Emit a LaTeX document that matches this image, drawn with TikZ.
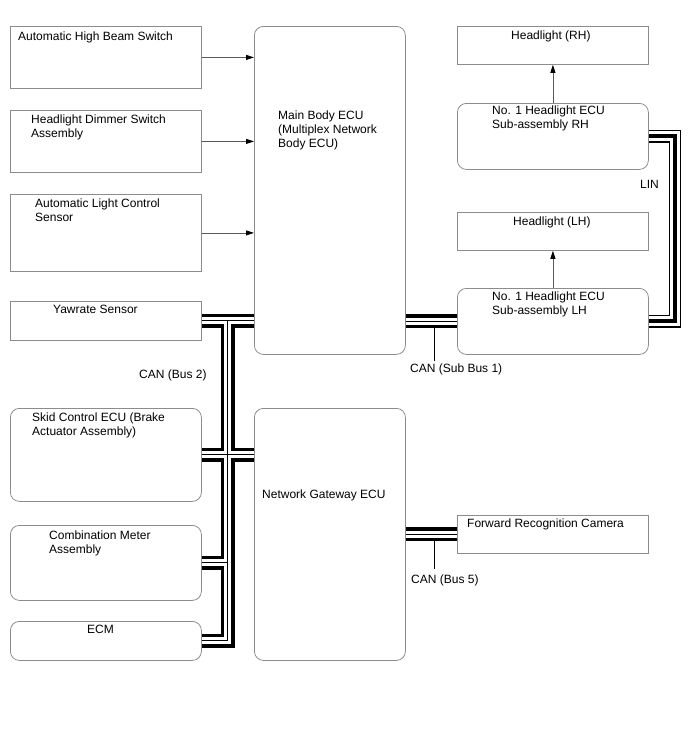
\documentclass[tikz,border=0pt]{standalone}
\usepackage{fontspec}
\setmainfont{Liberation Sans}
\usepackage{tikz}
\usetikzlibrary{positioning, arrows.meta, calc}
\usepackage{xcolor}

\begin{document}
\begin{tikzpicture}[
        x=1pt, y=-1pt,
        every node/.style={font=\fontsize{12}{14}\selectfont},
        box/.style={draw=black!45, line width=0.8pt, inner sep=0pt, anchor=north west},
        ecu/.style={box, rounded corners=9pt},
        txt/.style={inner sep=0pt, anchor=north west, align=left},
        arr/.style={draw=black!65, line width=0.8pt, -{Triangle[length=8pt, width=5pt, color=black]}},
        canout/.style={line width=14pt, black},
        canmid/.style={line width=7pt, white},
        canin/.style={line width=1pt, black},
        linout/.style={line width=12.5pt, black},
        linmid/.style={line width=10pt, white},
        linin/.style={line width=4pt, black}
      ]
      \useasboundingbox (0,0) rectangle (688,755);

      \node[box, minimum width=191, minimum height=62] (ahbs)  at (10,26)  {};
      \node[box, minimum width=191, minimum height=62] (dim)   at (10,110) {};
      \node[box, minimum width=191, minimum height=77] (alcs)  at (10,194) {};
      \node[box, minimum width=191, minimum height=39] (yaw)   at (10,301) {};
      \node[ecu, minimum width=191, minimum height=93] (skid)  at (10,408) {};
      \node[ecu, minimum width=191, minimum height=75] (meter) at (10,525) {};
      \node[ecu, minimum width=191, minimum height=39] (ecm)   at (10,621) {};

      \node[ecu, minimum width=151, minimum height=328] (mbecu) at (254,26)  {};
      \node[ecu, minimum width=151, minimum height=252] (gw)    at (254,408) {};

      \node[box, minimum width=191, minimum height=38] (hlrh)  at (457,26)  {};
      \node[ecu, minimum width=191, minimum height=66] (ecurh) at (457,103) {};
      \node[box, minimum width=191, minimum height=38] (hllh)  at (457,212) {};
      \node[ecu, minimum width=191, minimum height=66] (eculh) at (457,288) {};
      \node[box, minimum width=191, minimum height=38] (cam)   at (457,515) {};

      \node[txt] (ahbs-t)  at (18,32)    {Automatic High Beam Switch};
      \node[txt] (dim-t)   at (31,115)   {Headlight Dimmer Switch\\Assembly};
      \node[txt] (alcs-t)  at (35,198.5) {Automatic Light Control\\Sensor};
      \node[txt] (yaw-t)   at (53,304.5) {Yawrate Sensor};
      \node[txt] (skid-t)  at (32,413)   {Skid Control ECU (Brake\\Actuator Assembly)};
      \node[txt] (meter-t) at (49,530.5) {Combination Meter\\Assembly};
      \node[txt] (ecm-t)   at (87,625)   {ECM};
      \node[txt] (mbecu-t) at (278,110.5) {Main Body ECU\\(Multiplex Network\\Body ECU)};
      \node[txt] (gw-t)    at (262,490)  {Network Gateway ECU};
      \node[txt] (hlrh-t)  at (511,31)   {Headlight (RH)};
      \node[txt] (ecurh-t) at (492,105.5) {No. 1 Headlight ECU\\Sub-assembly RH};
      \node[txt] (hllh-t)  at (513,217)  {Headlight (LH)};
      \node[txt] (eculh-t) at (492,291.5) {No. 1 Headlight ECU\\Sub-assembly LH};
      \node[txt] (cam-t)   at (467,518.5) {Forward Recognition Camera};

      \node[txt] (can2)  at (139,370)   {CAN (Bus 2)};
      \node[txt] (sub1)  at (410,364)   {CAN (Sub Bus 1)};
      \node[txt] (bus5)  at (411,575)   {CAN (Bus 5)};
      \node[txt] (lin)   at (640,180)   {LIN};

      \draw[arr] (ahbs.east) -- (ahbs.east -| mbecu.west);
      \draw[arr] (dim.east)  -- (dim.east -| mbecu.west);
      \draw[arr] (alcs.east) -- (alcs.east -| mbecu.west);
      \draw[arr] (ecurh.north) -- (hlrh.south);
      \draw[arr] (eculh.north) -- (hllh.south);

      \coordinate (j)  at ($(yaw.east)!0.5!(yaw.east -| mbecu.west)$);
      \coordinate (s1) at ($(mbecu.east |- eculh.west)!0.55!(eculh.west)$);
      \coordinate (s5) at ($(gw.east |- cam.west)!0.55!(cam.west)$);
      \draw[line width=0.8pt] (s1) -- ($(s1 |- sub1.north)+(0,-3)$);
      \draw[line width=0.8pt] (s5) -- ($(s5 |- bus5.north)+(0,-6)$);

      \foreach \layer in {canout,canmid,canin} {
        \draw[\layer] (yaw.east) -- (yaw.east -| mbecu.west);
        \draw[\layer] (j) |- (ecm.east);
        \draw[\layer] (skid.east) -- (skid.east -| gw.west);
        \draw[\layer] (meter.east) -- (meter.east -| j);
        \draw[\layer] (mbecu.east |- eculh.west) -- (eculh.west);
        \draw[\layer] (gw.east |- cam.west) -- (cam.west);
      }
      \foreach \layer in {linout,linmid,linin}
        \draw[\layer] (ecurh.east) -- ++(26,0) |- (eculh.east);
    \end{tikzpicture}
\end{document}
